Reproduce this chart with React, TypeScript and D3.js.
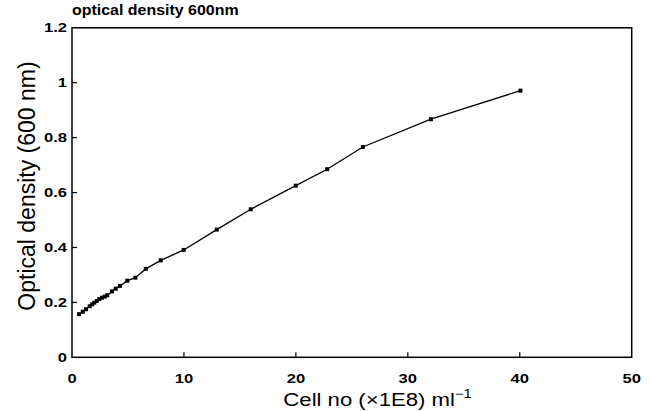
import React, { useEffect, useRef } from "react"
import * as d3 from "d3"

// cell number (x 1E8 per ml) against optical density at 600 nm
const cellNo = [
  0.63, 0.96, 1.25, 1.58, 1.81, 1.99, 2.21, 2.44, 2.68, 2.92, 3.15, 3.57, 3.9, 4.29,
  4.94, 5.66, 6.59, 7.93, 9.98, 12.93, 15.97, 19.99, 22.79, 25.98, 32.06, 40.06
]
const opticalDensity = [
  0.157, 0.166, 0.175, 0.186, 0.193, 0.199, 0.205, 0.212, 0.217, 0.221, 0.226, 0.24, 0.25, 0.26,
  0.279, 0.29, 0.322, 0.353, 0.391, 0.465, 0.539, 0.625, 0.685, 0.766, 0.867, 0.971
]
const xTicks = [0, 10, 20, 30, 40, 50]
const yTicks = [0, 0.2, 0.4, 0.6, 0.8, 1, 1.2]

const App = () => {
  const svgRef = useRef<SVGSVGElement | null>(null)

  useEffect(() => {
    if (!svgRef.current) return
    const svg = d3.select(svgRef.current)
    svg.selectAll("*").remove()

    const width = 651
    const height = 411
    const left = 72, right = 631.7, top = 27.8, bottom = 357.3
    const font = "'Liberation Sans', Arial, Helvetica, sans-serif"

    svg.attr("width", width).attr("height", height)
      .style("position", "absolute")
      .style("left", "0px")
      .style("top", "0px")
      .style("background", "#fff")
      .style("font-family", font)

    const x = d3.scaleLinear().domain([0, 50]).range([left, right])
    const y = d3.scaleLinear().domain([0, 1.2]).range([bottom, top])

    const g = svg.append("g")

    // frame
    g.append("rect")
      .attr("x", left).attr("y", top)
      .attr("width", right - left).attr("height", bottom - top)
      .attr("fill", "none").attr("stroke", "#000").attr("stroke-width", 1.5)

    // x ticks (inward) and labels, the scan is a bit wide so labels are stretched
    xTicks.forEach(t => {
      if (t > 0 && t < 50) {
        g.append("line")
          .attr("x1", x(t)).attr("x2", x(t))
          .attr("y1", bottom).attr("y2", bottom - 5)
          .attr("stroke", "#000").attr("stroke-width", 1.2)
      }
      g.append("text")
        .attr("transform", `translate(${x(t)}, 382.5) scale(1.33, 1)`)
        .attr("text-anchor", "middle")
        .attr("font-size", 12.5).attr("font-weight", "bold")
        .text(t)
    })

    // y ticks (inward) and labels
    yTicks.forEach(t => {
      if (t > 0 && t < 1.2) {
        g.append("line")
          .attr("x1", left).attr("x2", left + 5)
          .attr("y1", y(t)).attr("y2", y(t))
          .attr("stroke", "#000").attr("stroke-width", 1.2)
      }
      g.append("text")
        .attr("transform", `translate(${left - 5}, ${y(t)}) scale(1.33, 1)`)
        .attr("dy", "0.36em")
        .attr("text-anchor", "end")
        .attr("font-size", 12.5).attr("font-weight", "bold")
        .text(String(t))
    })

    // data line
    const pts: [number, number][] = cellNo.map((c, i) => [c, opticalDensity[i]])
    const line = d3.line<[number, number]>()
      .x(d => x(d[0]))
      .y(d => y(d[1]))

    g.append("path")
      .attr("d", line(pts))
      .attr("fill", "none")
      .attr("stroke", "#000")
      .attr("stroke-width", 1.3)

    g.selectAll(".pt")
      .data(pts)
      .enter()
      .append("rect")
      .attr("class", "pt")
      .attr("x", d => x(d[0]) - 2)
      .attr("y", d => y(d[1]) - 2)
      .attr("width", 4)
      .attr("height", 4)
      .attr("fill", "#000")

    // titles
    svg.append("text")
      .attr("transform", "translate(72, 15) scale(1.1, 1)")
      .attr("font-size", 14.5).attr("font-weight", "bold")
      .text("optical density 600nm")

    svg.append("text")
      .attr("transform", `translate(35, 186) rotate(-90)`)
      .attr("text-anchor", "middle")
      .attr("font-size", 23)
      .text("Optical density (600 nm)")

    const xl = svg.append("text")
      .attr("transform", "translate(377.5, 405.5) scale(1.23, 1)")
      .attr("text-anchor", "middle")
      .attr("font-size", 18)
    xl.append("tspan").text("Cell no (\u00D71E8) ml")
    xl.append("tspan").attr("dy", -8).attr("font-size", 12).text("\u22121")
  }, [])

  return <svg ref={svgRef}></svg>
}

export default App
